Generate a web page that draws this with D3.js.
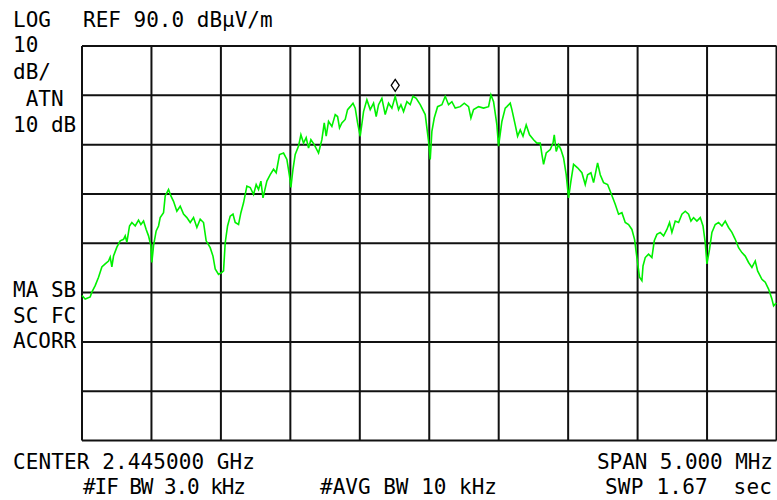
<!DOCTYPE html>
<html>
<head>
<meta charset="utf-8">
<script src="https://cdn.jsdelivr.net/npm/d3@7"></script>
<style>
  html, body { margin: 0; padding: 0; background: #fff; }
  svg text { font-family: "DejaVu Sans Mono", "Liberation Mono", monospace; font-size: 21px; fill: #000; }
</style>
</head>
<body>
<svg id="chart" width="777" height="500"></svg>
<script>
"use strict";
// analyzer settings
var refLevel = 90, dbPerDiv = 10, vDivs = 8;
var spanKHz = 5000, hDivs = 10;

// trace: offset from center (kHz) and level (dBuV/m)
var freqOffsetKHz = [
  -2500,-2477,-2441,-2429,-2405,-2381,-2357,-2333,-2309,-2297,-2285,-2273,-2249,-2225,-2201,-2189,-2177,-2158,-2141,-2117,
  -2093,-2076,-2057,-2038,-2021,-2004,-1997,-1985,-1966,-1949,-1937,-1913,-1901,-1877,-1860,-1841,-1817,-1793,-1769,-1745,
  -1721,-1697,-1673,-1649,-1625,-1606,-1577,-1557,-1541,-1517,-1493,
  -1481,-1469,-1452,-1433,-1413,-1397,-1373,-1356,-1337,-1313,-1289,-1265,-1246,-1229,-1212,-1197,-1169,-1145,-1121,-1102,
  -1078,-1049,-1025,-1006,-996,-981,-965,-941,-924,-905,-886,-869,-852,-828,-797,-773,-756,-742,-725,-701,
  -677,-660,-646,-629,-605,-588,-569,-549,-533,-516,-497,
  -473,-449,-425,-401,-382,-365,-341,-317,-293,-269,-245,-221,-204,-185,-161,-137,-117,-94,-65,-29,
  -5,7,19,36,60,91,115,139,163,187,223,252,283,300,319,355,391,427,444,463,487,499,523,
  547,559,583,595,619,636,655,675,698,722,751,775,799,811,823,842,871,891,900,914,
  931,948,967,986,1003,1020,1039,1068,1099,1123,1140,1164,1183,1212,1231,1255,1284,1308,1339,1363,
  1387,1411,1435,1459,1478,1495,1514,1531,
  1539,1555,1579,1603,1620,1639,1663,1687,1711,1730,1747,1771,1795,1819,1843,1867,1884,1903,1927,1951,
  1971,1987,1999,2018,2035,2059,2083,2107,2131,2155,2179,2203,2227,2251,2275,2299,2323,2347,2364,2395,
  2419,2443,2467,2479,2498
];
var levelDb = [
  39.4,38.7,39.1,40.1,41.4,43.1,45.2,45.8,46.4,47.2,45.2,47.4,49.2,50.5,50.8,51.5,50.2,53.5,54.2,53.5,
  54.7,53.8,54.5,52.8,51.5,49.5,46.1,49.5,52.5,53.5,55.2,56.2,59.6,60.9,59.6,58.5,56.5,57.5,55.9,55.2,
  54.2,55.2,53.2,54.9,54.2,50.5,49.1,47.4,44.8,43.7,44.1,
  44.4,50.1,53.5,55.5,55.9,54.2,53.8,56.2,58.2,61.6,61.3,59.9,61.9,60.9,62.6,59.2,62.6,63.9,65.0,64.3,
  68.0,68.3,67.0,63.6,61.3,65.0,68.0,69.7,72.0,70.3,71.4,69.3,71.0,70.0,68.3,71.0,74.4,71.7,74.7,73.7,
  76.1,75.7,73.4,74.4,75.1,77.1,77.7,78.4,77.4,74.4,71.7,
  76.7,79.1,77.1,78.4,75.7,78.1,79.4,76.1,78.4,77.4,79.8,77.1,78.1,76.7,78.7,78.1,79.8,79.4,78.1,76.1,
  70.7,67.0,72.7,75.4,77.7,78.1,79.8,78.1,78.7,77.4,77.7,78.4,77.7,75.4,77.1,77.7,77.4,77.7,80.1,78.7,74.0,69.7,74.7,
  77.4,77.7,78.4,77.1,74.0,71.7,73.0,71.7,74.0,72.0,71.0,70.3,70.3,68.0,66.0,68.3,69.0,70.3,72.0,68.6,
  70.0,69.0,67.3,63.9,59.2,62.6,66.0,65.3,64.3,61.9,63.9,64.3,62.3,66.3,63.9,62.3,61.9,60.2,57.9,55.9,
  56.2,54.2,53.8,52.8,50.8,47.1,43.1,42.4,
  45.4,47.1,47.8,47.1,50.5,51.8,52.2,51.5,52.8,54.2,52.2,54.5,54.2,55.9,56.5,55.9,54.5,55.2,54.5,55.2,
  53.5,50.1,45.8,48.8,52.2,53.8,54.2,53.5,54.5,53.2,52.2,50.8,49.1,48.1,47.4,46.1,45.1,46.4,44.4,42.7,
  42.1,40.7,38.7,37.3,37.9
];
// marker (diamond) sits on the peak
var markerKHz = -245, markerDb = 79.8;

// annotation lines
var topLabels = ["LOG", "REF 90.0 dB\u00b5V/m"];
var leftLabels = ["10", "dB/", " ATN", "10 dB", "MA SB", "SC FC", "ACORR"];
var bottomLabels = ["CENTER 2.445000 GHz", "SPAN 5.000 MHz", "#IF BW 3.0 kHz", "#AVG BW 10 kHz", "SWP 1.67  sec"];

var svg = d3.select("#chart");
var plotL = 82, plotR = 776.5, plotT = 46, plotB = 440.5;

var x = d3.scaleLinear().domain([-spanKHz / 2, spanKHz / 2]).range([plotL, plotR]);
var y = d3.scaleLinear().domain([refLevel - dbPerDiv * vDivs, refLevel]).range([plotB, plotT]);

var g = svg.append("g");

// graticule
g.selectAll("line.v")
    .data(d3.range(hDivs + 1).map(function (i) { return -spanKHz / 2 + i * spanKHz / hDivs; }))
    .enter().append("line")
    .attr("class", "v")
    .attr("x1", function (d) { return x(d); }).attr("x2", function (d) { return x(d); })
    .attr("y1", plotT).attr("y2", plotB)
    .style("stroke", "#111").style("stroke-width", 2);

g.selectAll("line.h")
    .data(d3.range(vDivs + 1).map(function (i) { return refLevel - i * dbPerDiv; }))
    .enter().append("line")
    .attr("class", "h")
    .attr("x1", plotL).attr("x2", plotR)
    .attr("y1", function (d) { return y(d); }).attr("y2", function (d) { return y(d); })
    .style("stroke", "#111").style("stroke-width", 2);

// trace
var pts = freqOffsetKHz.map(function (f, i) { return [f, levelDb[i]]; });
var line = d3.line()
    .x(function (d) { return x(d[0]); })
    .y(function (d) { return y(d[1]); });

g.append("path")
    .datum(pts)
    .attr("d", line)
    .style("fill", "none")
    .style("stroke", "#00f000")
    .style("stroke-width", 1.6)
    .style("stroke-linejoin", "miter");

// marker diamond above the peak point
var mx = x(markerKHz), my = y(markerDb);
g.append("path")
    .attr("d", "M" + mx + "," + (my - 17) + " L" + (mx + 4) + "," + (my - 11) + " L" + mx + "," + (my - 5) + " L" + (mx - 4) + "," + (my - 11) + " Z")
    .style("fill", "none")
    .style("stroke", "#000")
    .style("stroke-width", 1.3);

// text
svg.append("text").attr("x", 13).attr("y", 27).text(topLabels[0]);
svg.append("text").attr("x", 83).attr("y", 27).text(topLabels[1]);

var leftY = [52, 79, 106, 132, 297, 323, 348];
leftLabels.forEach(function (t, i) {
    svg.append("text").attr("x", 13).attr("y", leftY[i]).attr("xml:space", "preserve").text(t);
});

var bottomPos = [[13, 469], [597, 469], [83, 494], [320, 494], [605, 494]];
var bottomLen = [242, 176, 163, 177, 167];
bottomLabels.forEach(function (t, i) {
    svg.append("text").attr("x", bottomPos[i][0]).attr("y", bottomPos[i][1])
        .attr("xml:space", "preserve")
        .attr("textLength", bottomLen[i])
        .attr("lengthAdjust", "spacing")
        .text(t);
});
</script>
</body>
</html>
